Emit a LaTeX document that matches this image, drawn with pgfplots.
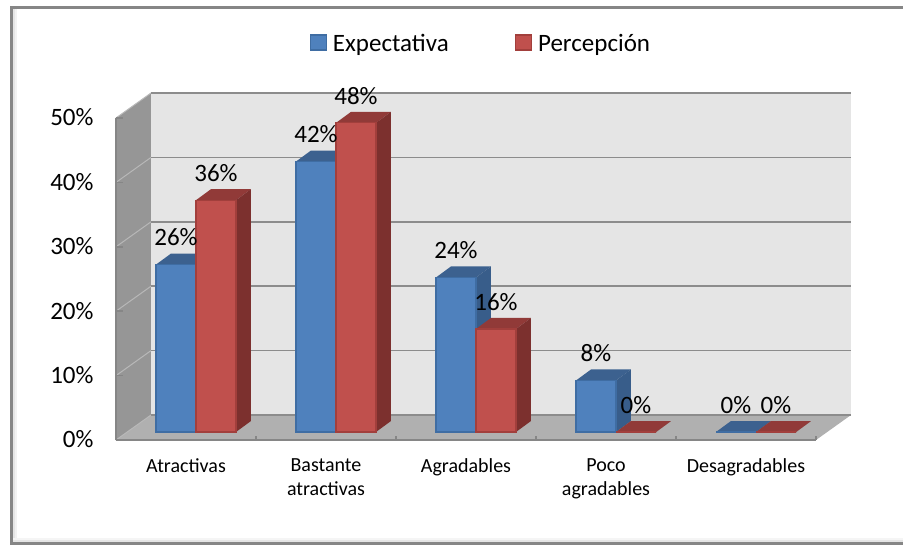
\documentclass[border=0pt]{standalone}
\usepackage{fontspec}
\setmainfont{Carlito}
\usepackage{pgfplots}
\usepackage{pgfplotstable}
\pgfplotsset{compat=1.18}

\definecolor{bluefront}{HTML}{4F81BD}
\definecolor{blueedge}{HTML}{3F6DA3}
\definecolor{bluetop}{HTML}{3C618F}
\definecolor{blueside}{HTML}{385D8A}
\definecolor{redfront}{HTML}{C0504D}
\definecolor{rededge}{HTML}{A23F3C}
\definecolor{redtop}{HTML}{913A38}
\definecolor{redside}{HTML}{7C302E}
\definecolor{axisgray}{HTML}{868686}

\pgfplotstableread{
cat exp per
0 26 36
1 42 48
2 24 16
3 8 0
4 0 0
}\datatable

% top and side face of one bar: row, column, left edge offset, top colour, side colour
\newcommand{\depthfaces}[5]{%
  \pgfplotstablegetelem{#1}{#2}\of\datatable
  \pgfmathsetmacro{\v}{\pgfplotsretval}%
  \pgfmathsetmacro{\xl}{#1+#3}%
  \pgfmathsetmacro{\xr}{\xl+0.2857}%
  \pgfmathsetmacro{\xla}{\xl+0.107}%
  \pgfmathsetmacro{\xra}{\xr+0.107}%
  \pgfmathsetmacro{\vb}{\v+1.708}%
  \addplot[forget plot, fill=#4, draw=none, xshift=10pt, yshift=8pt] coordinates {(\xl,\v) (\xr,\v) (\xra,\vb) (\xla,\vb)} -- cycle;
  \addplot[forget plot, fill=#5, draw=none, xshift=10pt, yshift=8pt] coordinates {(\xr,0) (\xra,1.708) (\xra,\vb) (\xr,\v)} -- cycle;
}

\pgfplotsset{
  squarekey/.style={legend image code/.code={%
    \draw[##1, line width=1.5pt] (0pt,-14pt) rectangle (16pt,1pt);
    \path (20pt,0pt);}},
}

\begin{document}
\begin{tikzpicture}
\begin{axis}[
  scale only axis,
  width=700pt, height=322pt,
  clip=false,
  axis on top,
  axis lines*=left,
  axis line style={draw=axisgray, line width=1.5pt},
  xmin=-0.5, xmax=4.5,
  ymin=0, ymax=50,
  xtick={0,1,2,3,4},
  xticklabels={Atractivas,{Bastante\\atractivas},Agradables,{Poco\\agradables},Desagradables},
  minor xtick={-0.5,0.5,1.5,2.5,3.5,4.5},
  major x tick style={draw=none},
  minor x tick style={draw=axisgray, line width=1.5pt},
  minor tick length=4pt,
  xticklabel style={font=\fontsize{20}{24}\selectfont, align=center, anchor=north, yshift=-15pt},
  ytick={0,10,20,30,40,50},
  y tick style={draw=axisgray, line width=1.5pt},
  major tick length=7pt,
  yticklabel={\pgfmathprintnumber{\tick}\%},
  yticklabel style={font=\fontsize{25}{28}\selectfont, anchor=east, xshift=-19pt, yshift=0.5pt},
  /pgf/number format/assume math mode=true,
  legend columns=2,
  legend cell align=left,
  legend style={at={(rel axis cs:0.272,1.2296)}, anchor=west, draw=none, fill=none,
    font=\fontsize{25}{28}\selectfont,
    /tikz/every even column/.append style={column sep=64pt}},
]

% chart walls and floor
\fill[black!41] (axis cs:-0.5,0) -- (axis cs:-0.25,3.88) -- (axis cs:-0.25,53.88) -- (axis cs:-0.5,50) -- cycle;
\fill[black!10] (axis cs:-0.25,3.88) rectangle (axis cs:4.75,53.88);
\fill[black!31] (axis cs:-0.5,0) -- (axis cs:-0.25,3.88) -- (axis cs:4.75,3.88) -- (axis cs:4.5,0) -- cycle;
\pgfplotsinvokeforeach{0,10,20,30,40,50}{
  \draw[black!28, line width=1pt] (axis cs:-0.5,#1) -- (axis cs:-0.25,#1+3.88);
  \draw[black!45, line width=1.5pt] (axis cs:-0.25,#1+3.88) -- (axis cs:4.75,#1+3.88);
}

% Expectativa
\pgfplotsinvokeforeach{0,1,2,3,4}{\depthfaces{#1}{exp}{-0.2857}{bluetop}{blueside}}
\addplot[ybar, bar width=40pt, bar shift=-20pt, fill=bluefront, draw=blueedge, line width=1.2pt,
  xshift=10pt, yshift=8pt, squarekey] table[x=cat, y=exp] {\datatable};
\addlegendentry{Expectativa}

% Percepción
\pgfplotsinvokeforeach{0,1,2,3,4}{\depthfaces{#1}{per}{0}{redtop}{redside}}
\addplot[ybar, bar width=40pt, bar shift=20pt, fill=redfront, draw=rededge, line width=1.2pt,
  xshift=10pt, yshift=8pt, squarekey] table[x=cat, y=per] {\datatable};
\addlegendentry{Percepción}

% value labels on top of everything
\addplot[forget plot, ybar, bar width=40pt, bar shift=-20pt, draw=none, fill=none, xshift=10pt, yshift=8pt,
  every node near coord/.style={anchor=center, xshift=-20pt, yshift=27pt, font=\fontsize{25}{28}\selectfont, text=black},
  nodes near coords={\pgfmathprintnumber{\pgfplotspointmeta}\%}] table[x=cat, y=exp] {\datatable};
\addplot[forget plot, ybar, bar width=40pt, bar shift=20pt, draw=none, fill=none, xshift=10pt, yshift=8pt,
  every node near coord/.style={anchor=center, xshift=20pt, yshift=27pt, font=\fontsize{25}{28}\selectfont, text=black},
  nodes near coords={\pgfmathprintnumber{\pgfplotspointmeta}\%}] table[x=cat, y=per] {\datatable};
\end{axis}

% outer frame, open on the right
\draw[axisgray, line width=3pt] (787pt,432.5pt) -- (-104.5pt,432.5pt) -- (-104.5pt,-103pt) -- (787pt,-103pt);
\fill[black!10] (-103pt,431pt) rectangle (-101pt,-101.5pt);
\fill[black!5] (-101pt,431pt) rectangle (-99pt,-101.5pt);
\fill[black!10] (-103pt,-101.5pt) rectangle (787pt,-99.5pt);
\fill[black!4] (-103pt,-99.5pt) rectangle (787pt,-97.5pt);

\pgfresetboundingbox
\path (-116pt,-107pt) rectangle (787pt,440pt);
\end{tikzpicture}
\end{document}
